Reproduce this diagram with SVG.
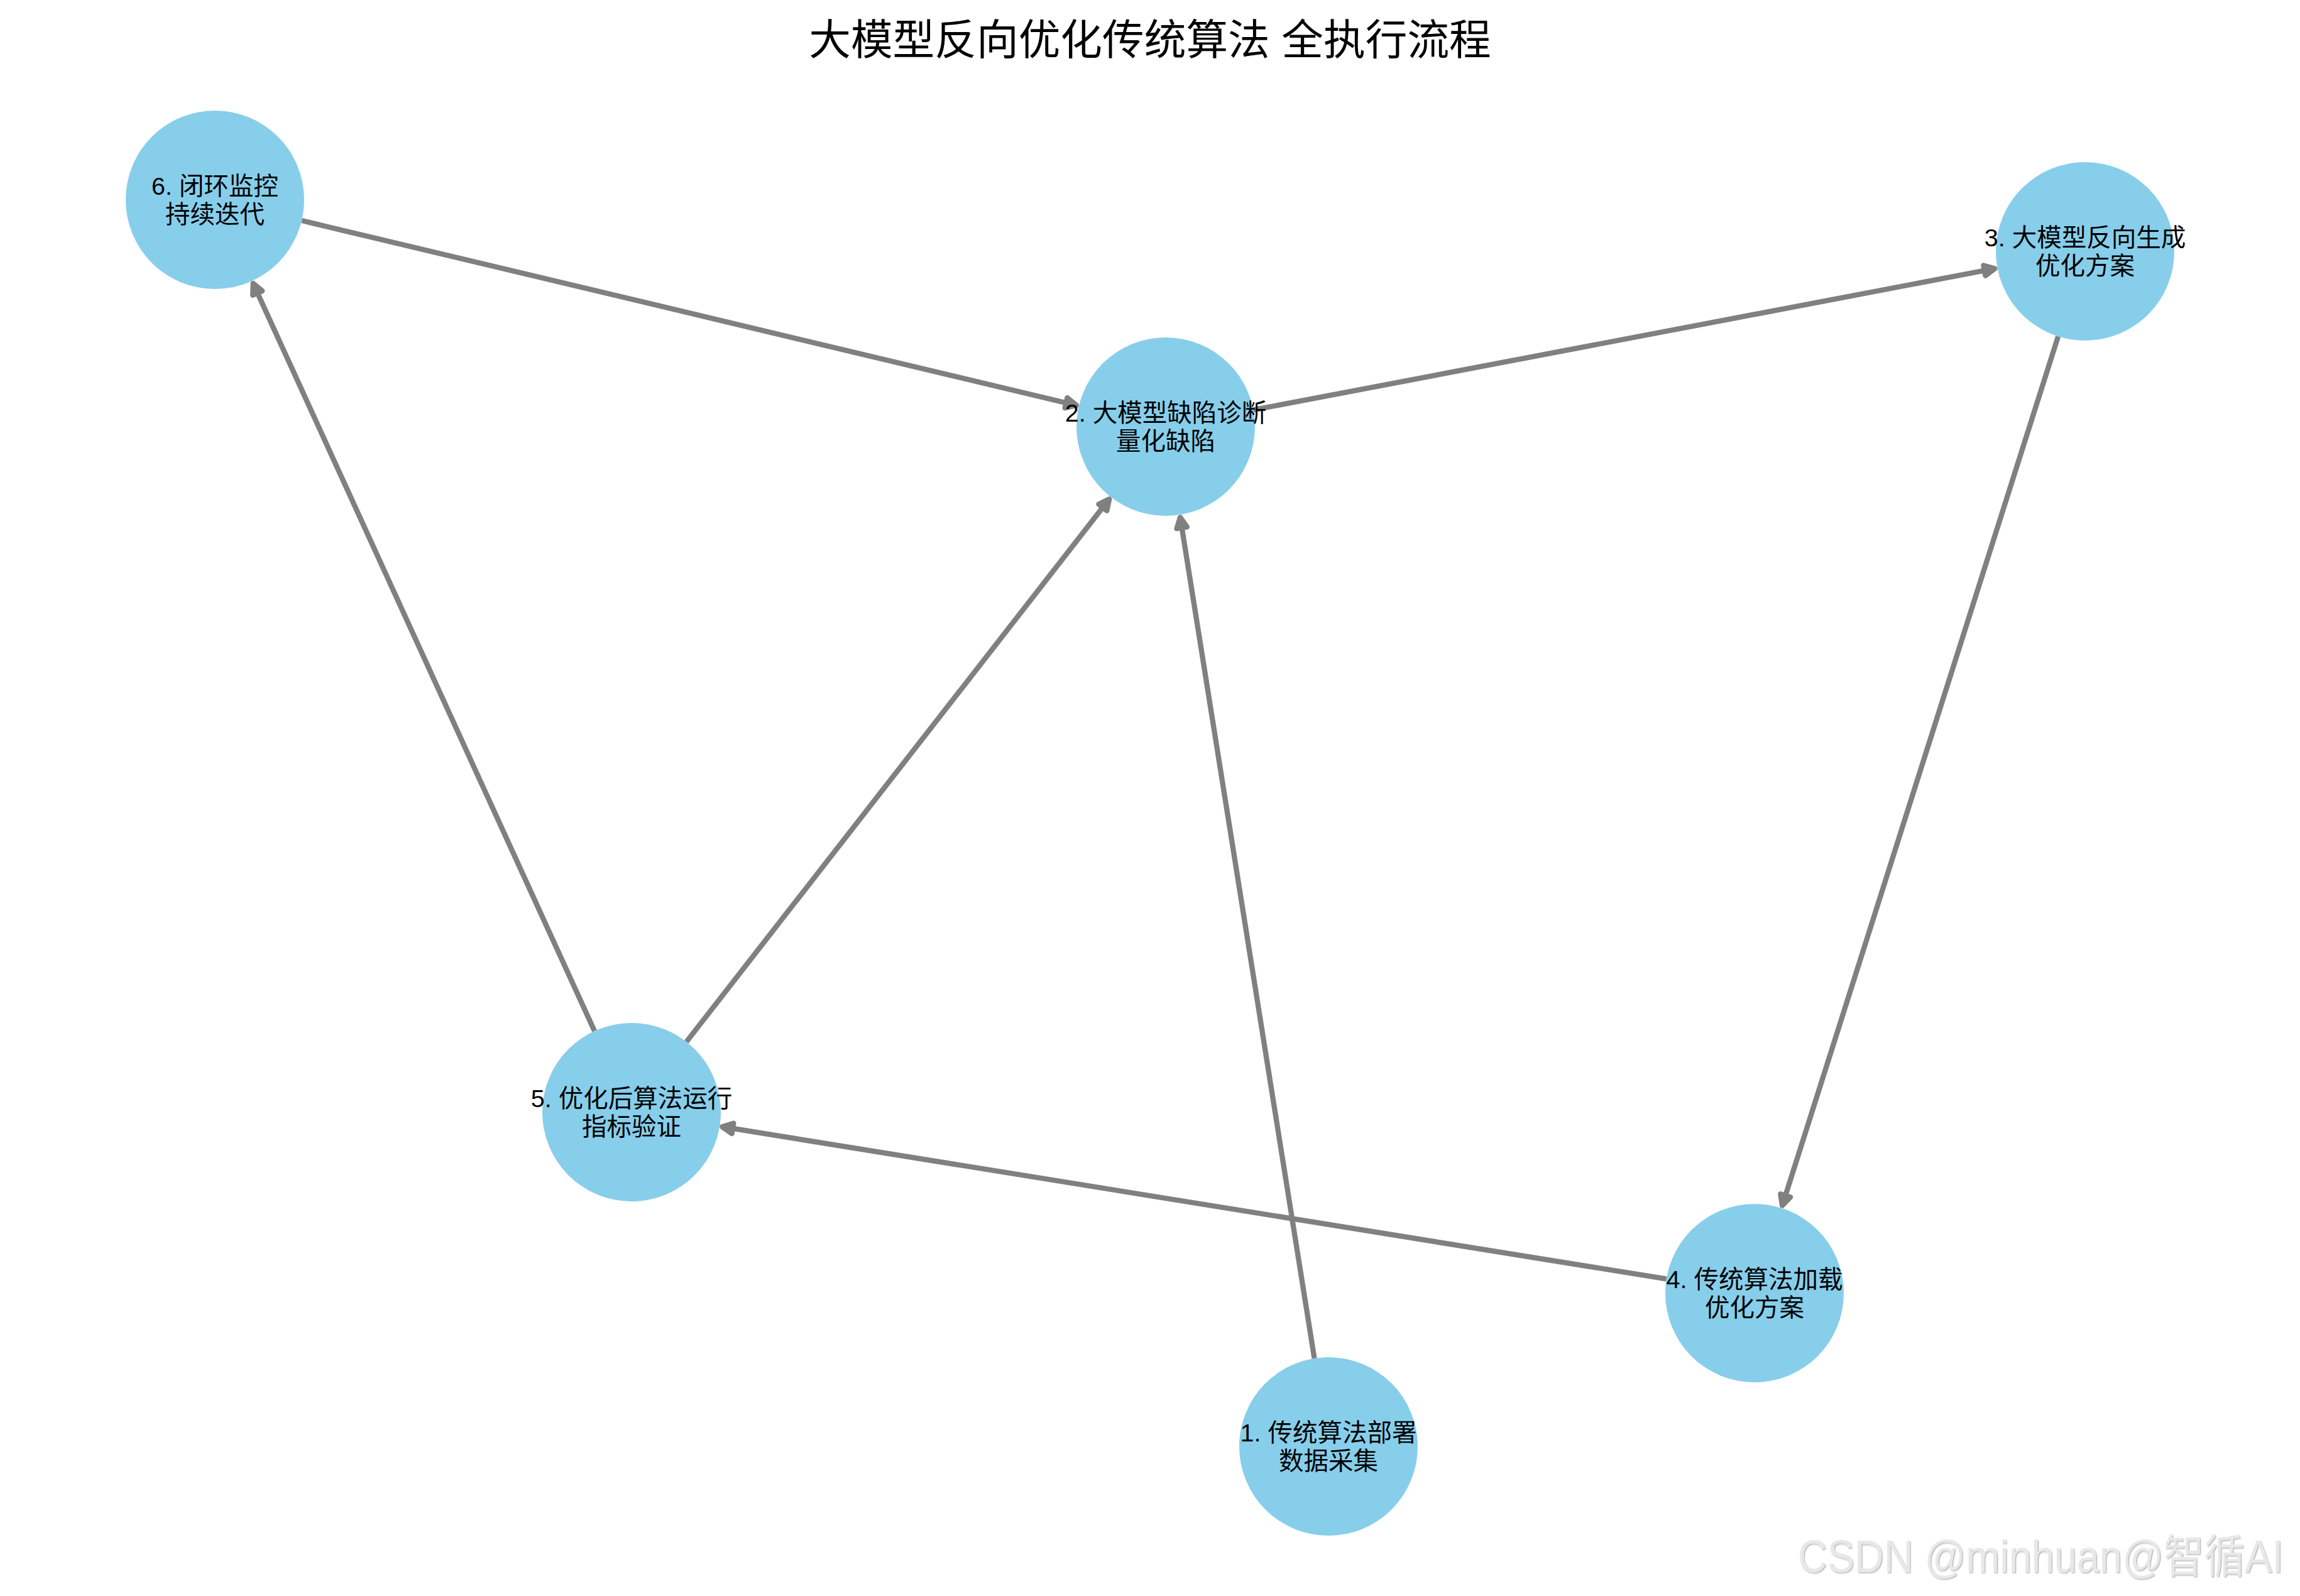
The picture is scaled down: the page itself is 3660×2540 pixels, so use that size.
<svg xmlns="http://www.w3.org/2000/svg" width="3660" height="2540" viewBox="0 0 3660 2540">
<style>
.edge{stroke:#808080;stroke-width:8.3;fill:none;stroke-linecap:butt;marker-end:url(#ah)}
.node circle{fill:#87CEEB}
.lbl{font-family:"Liberation Sans","Noto Sans CJK SC",sans-serif;font-size:39.5px;fill:#000;text-anchor:middle}
.title{font-family:"Liberation Sans","Noto Sans CJK SC",sans-serif;font-size:66.7px;font-weight:normal;fill:#000;text-anchor:middle}
.wm{font-family:"Liberation Sans","Noto Sans CJK SC",sans-serif;font-size:72px;fill:#e8e8e8;filter:url(#emb)}
</style>
<defs>
<marker id="ah" markerUnits="userSpaceOnUse" orient="auto" markerWidth="40" markerHeight="40" viewBox="-20 -20 40 40" refX="0" refY="0" overflow="visible">
<path d="M-11,-8.3 L5.85,0 L-11,8.3 Z" fill="#808080" stroke="#808080" stroke-width="8.3" stroke-linejoin="round"/>
</marker>
<filter id="emb" x="-5%" y="-20%" width="110%" height="140%">
<feDropShadow dx="1.5" dy="1.5" stdDeviation="0.8" flood-color="#b0b0b0" flood-opacity="0.9"/>
</filter>
</defs>
<rect width="3660" height="2540" fill="#fff"/>
<text class="title" x="1830" y="87">大模型反向优化传统算法 全执行流程</text>
<g id="connectors">
<line class="edge" x1="480.1" y1="351.0" x2="1707.2" y2="643.7"/>
<line class="edge" x1="1994.5" y1="652.4" x2="3168.7" y2="428.5"/>
<line class="edge" x1="3275.1" y1="535.4" x2="2837.9" y2="1913.1"/>
<line class="edge" x1="2651.8" y1="2035.4" x2="1155.1" y2="1794.2"/>
<line class="edge" x1="946.0" y1="1640.8" x2="405.2" y2="456.3"/>
<line class="edge" x1="1092.3" y1="1658.0" x2="1761.6" y2="798.9"/>
<line class="edge" x1="2091.6" y1="2161.8" x2="1879.0" y2="829.1"/>
</g>
<g id="node1" class="node"><circle cx="2114" cy="2302" r="142"/><text class="lbl"><tspan x="2114" y="2294">1. 传统算法部署</tspan><tspan x="2114" y="2339">数据采集</tspan></text></g>
<g id="node2" class="node"><circle cx="1855" cy="679" r="142"/><text class="lbl"><tspan x="1855" y="671">2. 大模型缺陷诊断</tspan><tspan x="1855" y="716">量化缺陷</tspan></text></g>
<g id="node3" class="node"><circle cx="3318" cy="400" r="142"/><text class="lbl"><tspan x="3318" y="392">3. 大模型反向生成</tspan><tspan x="3318" y="437">优化方案</tspan></text></g>
<g id="node4" class="node"><circle cx="2792" cy="2058" r="142"/><text class="lbl"><tspan x="2792" y="2050">4. 传统算法加载</tspan><tspan x="2792" y="2095">优化方案</tspan></text></g>
<g id="node5" class="node"><circle cx="1005" cy="1770" r="142"/><text class="lbl"><tspan x="1005" y="1762">5. 优化后算法运行</tspan><tspan x="1005" y="1807">指标验证</tspan></text></g>
<g id="node6" class="node"><circle cx="342" cy="318" r="142"/><text class="lbl"><tspan x="342" y="310">6. 闭环监控</tspan><tspan x="342" y="355">持续迭代</tspan></text></g>
<text class="wm" transform="translate(2861,2502) scale(0.9,1)" x="0" y="0">CSDN @minhuan@智循AI</text>
</svg>
